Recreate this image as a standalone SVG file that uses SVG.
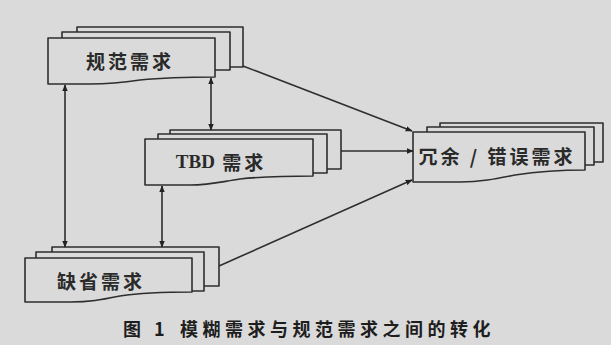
<svg xmlns="http://www.w3.org/2000/svg" width="611" height="345" viewBox="0 0 611 345">
<defs>
<style>
.pg{fill:#dadada;stroke:#2e2e2e;stroke-width:1.6;stroke-linejoin:round}
.lbl{font-family:"Noto Sans CJK SC","Liberation Serif",serif;font-weight:bold;font-size:19px;fill:#2a2a2a;letter-spacing:3px;dominant-baseline:central}
.lat{font-family:"Liberation Serif","Noto Sans CJK SC",serif;letter-spacing:0}
.cn{stroke:#2e2e2e;stroke-width:1.6;fill:none}
.cap{font-family:"Noto Sans CJK SC","Liberation Serif",serif;font-weight:bold;font-size:18px;fill:#1e1e1e;letter-spacing:4.5px}
</style>
<marker id="ah" viewBox="0 0 10 10" refX="9" refY="5" markerWidth="7" markerHeight="7" markerUnits="userSpaceOnUse" orient="auto-start-reverse">
<path d="M0,1 L10,5 L0,9 Z" fill="#222"/>
</marker>
</defs>
<rect width="611" height="345" fill="#dadada"/>

<g id="node-guifan">
<rect class="pg" x="77" y="27" width="166" height="40"/>
<rect class="pg" x="62" y="32" width="168" height="38"/>
<path class="pg" d="M48,38 H215 V77 C180,77 160,78 140,80 C120,83 110,84 90,84 H48 Z"/>
<text class="lbl" x="130" y="60" text-anchor="middle">规范需求</text>
</g>

<g id="node-tbd">
<rect class="pg" x="170" y="130" width="171" height="39"/>
<rect class="pg" x="158" y="134" width="169" height="39"/>
<path class="pg" d="M145,139 H313 V176 C280,176 260,177 240,179 C220,182 210,185 190,185 H145 Z"/>
<text class="lbl" x="221" y="161" text-anchor="middle"><tspan class="lat">TBD</tspan> 需求</text>
</g>

<g id="node-queshen">
<rect class="pg" x="52" y="247" width="167" height="39"/>
<rect class="pg" x="36" y="252" width="168" height="39"/>
<path class="pg" d="M25,258 H192 V292 C160,292 140,293 120,296 C100,300 90,302 70,302 H25 Z"/>
<text class="lbl" x="101" y="280" text-anchor="middle">缺省需求</text>
</g>

<g id="node-rongyu">
<rect class="pg" x="440" y="123" width="163" height="39"/>
<rect class="pg" x="427" y="127" width="167" height="38"/>
<path class="pg" d="M413,132 H585 V170 C555,170 535,172 515,175 C495,179 480,182 460,182 H413 Z"/>
<text class="lbl" x="497" y="155" text-anchor="middle">冗余 / 错误需求</text>
</g>

<g id="connectors">
<line class="cn" x1="65" y1="85" x2="65" y2="247" marker-start="url(#ah)" marker-end="url(#ah)"/>
<line class="cn" x1="211" y1="78" x2="211" y2="130" marker-start="url(#ah)" marker-end="url(#ah)"/>
<line class="cn" x1="162" y1="186" x2="162" y2="247" marker-start="url(#ah)" marker-end="url(#ah)"/>
<line class="cn" x1="243" y1="66" x2="412" y2="131" marker-end="url(#ah)"/>
<line class="cn" x1="341" y1="151" x2="413" y2="151" marker-end="url(#ah)"/>
<line class="cn" x1="219" y1="266" x2="412" y2="180" marker-end="url(#ah)"/>
</g>

<text class="cap" x="123" y="336">图 1</text>
<text class="cap" x="180" y="336">模糊需求与规范需求之间的转化</text>
</svg>
